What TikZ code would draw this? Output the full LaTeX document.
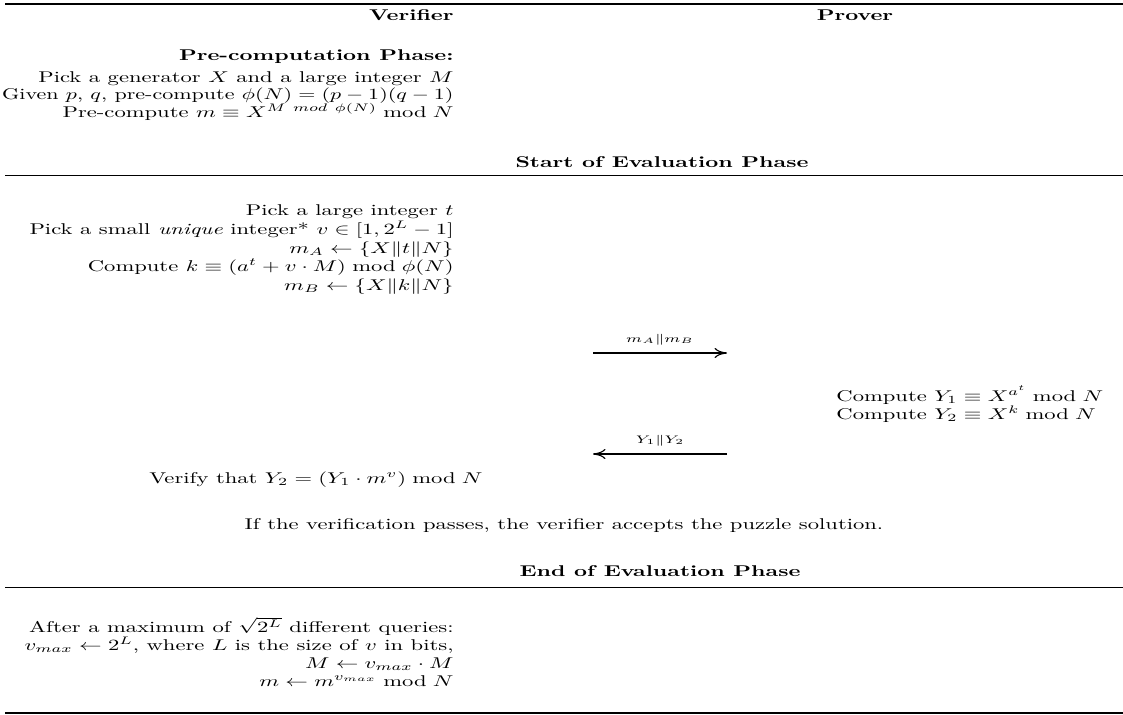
\documentclass[tikz,border=0pt]{standalone}
\usepackage{amsmath,amssymb,graphicx}
\usetikzlibrary{arrows.meta}
\newcommand{\vsq}[1]{\scalebox{1}[0.69]{#1}}
\begin{document}
\begin{tikzpicture}[x=0.4425pt,y=-0.4425pt,
  vtxt/.style={anchor=base east, inner sep=0pt},
  ptxt/.style={anchor=base west, inner sep=0pt},
  ctxt/.style={anchor=base, inner sep=0pt},
  hdr/.style={anchor=base, inner sep=0pt, font=\bfseries},
  toprulestyle/.style={line width=0.8pt},
  midrulestyle/.style={line width=0.7pt},
  msg/.style={-{To[length=5.5pt,width=4.5pt]}, line width=0.5pt},
  msglabel/.style={anchor=base, inner sep=0pt, font=\scriptsize}]
\useasboundingbox (0,0) rectangle (1123,715);

% rules
\coordinate (r1l) at (5,4.3);   \coordinate (r1r) at (1123,4.3);
\coordinate (r2l) at (5,175.3); \coordinate (r2r) at (1123,175.3);
\coordinate (r3l) at (5,587.3); \coordinate (r3r) at (1123,587.3);
\coordinate (r4l) at (5,713);   \coordinate (r4r) at (1123,713);
\draw[toprulestyle] (r1l) -- (r1r);
\draw[midrulestyle] (r2l) -- (r2r);
\draw[midrulestyle] (r3l) -- (r3r);
\draw[toprulestyle] (r4l) -- (r4r);

% headers
\node[hdr, anchor=base east] (vh) at (454,20) {\vsq{Verifier}};
\node[hdr] (ph) at (855,20) {\vsq{Prover}};

% pre-computation
\node[vtxt, font=\bfseries] (pre) at (454,60) {\vsq{Pre-computation Phase:}};
\node[vtxt] (p1) at (454,82) {\vsq{Pick a generator $X$ and a large integer $M$}};
\node[vtxt] (p2) at (454,99.5) {\scalebox{0.975}[0.69]{Given $p$, $q$, pre-compute $\phi(N)=(p-1)(q-1)$}};
\node[vtxt] (p3) at (454,117) {\vsq{Pre-compute $m\equiv X^{M~mod~\phi(N)} \bmod N$}};
\node[hdr] (start) at (662,167) {\vsq{Start of Evaluation Phase}};

% evaluation, verifier side
\node[vtxt] (e1) at (454,215) {\vsq{Pick a large integer $t$}};
\node[vtxt] (e2) at (454,234) {\vsq{Pick a small \emph{unique} integer* $v\in[1,2^L-1]$}};
\node[vtxt] (e3) at (454,253) {\vsq{$m_A \leftarrow \{X\|t\|N\}$}};
\node[vtxt] (e4) at (454,271.5) {\vsq{Compute $k\equiv(a^t+v\cdot M) \bmod \phi(N)$}};
\node[vtxt] (e5) at (454,290) {\vsq{$m_B \leftarrow \{X\|k\|N\}$}};

% message 1
\coordinate (a1s) at (593,353);
\coordinate (a1e) at (727,353);
\draw[msg] (a1s) -- (a1e);
\node[msglabel] (l1) at (660,342) {\vsq{$m_A\|m_B$}};

% prover side
\node[ptxt] (c1) at (836,401) {\vsq{Compute $Y_1\equiv X^{a^t} \bmod N$}};
\node[ptxt] (c2) at (836,419.5) {\vsq{Compute $Y_2\equiv X^k \bmod N$}};

% message 2
\coordinate (a2s) at (727,454);
\coordinate (a2e) at (593,454);
\draw[msg] (a2s) -- (a2e);
\node[msglabel] (l2) at (660,443) {\vsq{$Y_1\|Y_2$}};

\node[ctxt] (ver) at (316,483) {\vsq{Verify that $Y_2=(Y_1\cdot m^v) \bmod N$}};
\node[ctxt] (acc) at (564,529) {\vsq{If the verification passes, the verifier accepts the puzzle solution.}};
\node[hdr] (end) at (660,576) {\vsq{End of Evaluation Phase}};

% after
\node[vtxt] (b1) at (454,632) {\vsq{After a maximum of $\sqrt{2^L}$ different queries:}};
\node[vtxt] (b2) at (454,650) {\vsq{$v_{max}\leftarrow 2^L$, where $L$ is the size of $v$ in bits,}};
\node[vtxt] (b3) at (454,668) {\vsq{$M\leftarrow v_{max}\cdot M$}};
\node[vtxt] (b4) at (454,686) {\vsq{$m\leftarrow m^{v_{max}} \bmod N$}};
\end{tikzpicture}
\end{document}
